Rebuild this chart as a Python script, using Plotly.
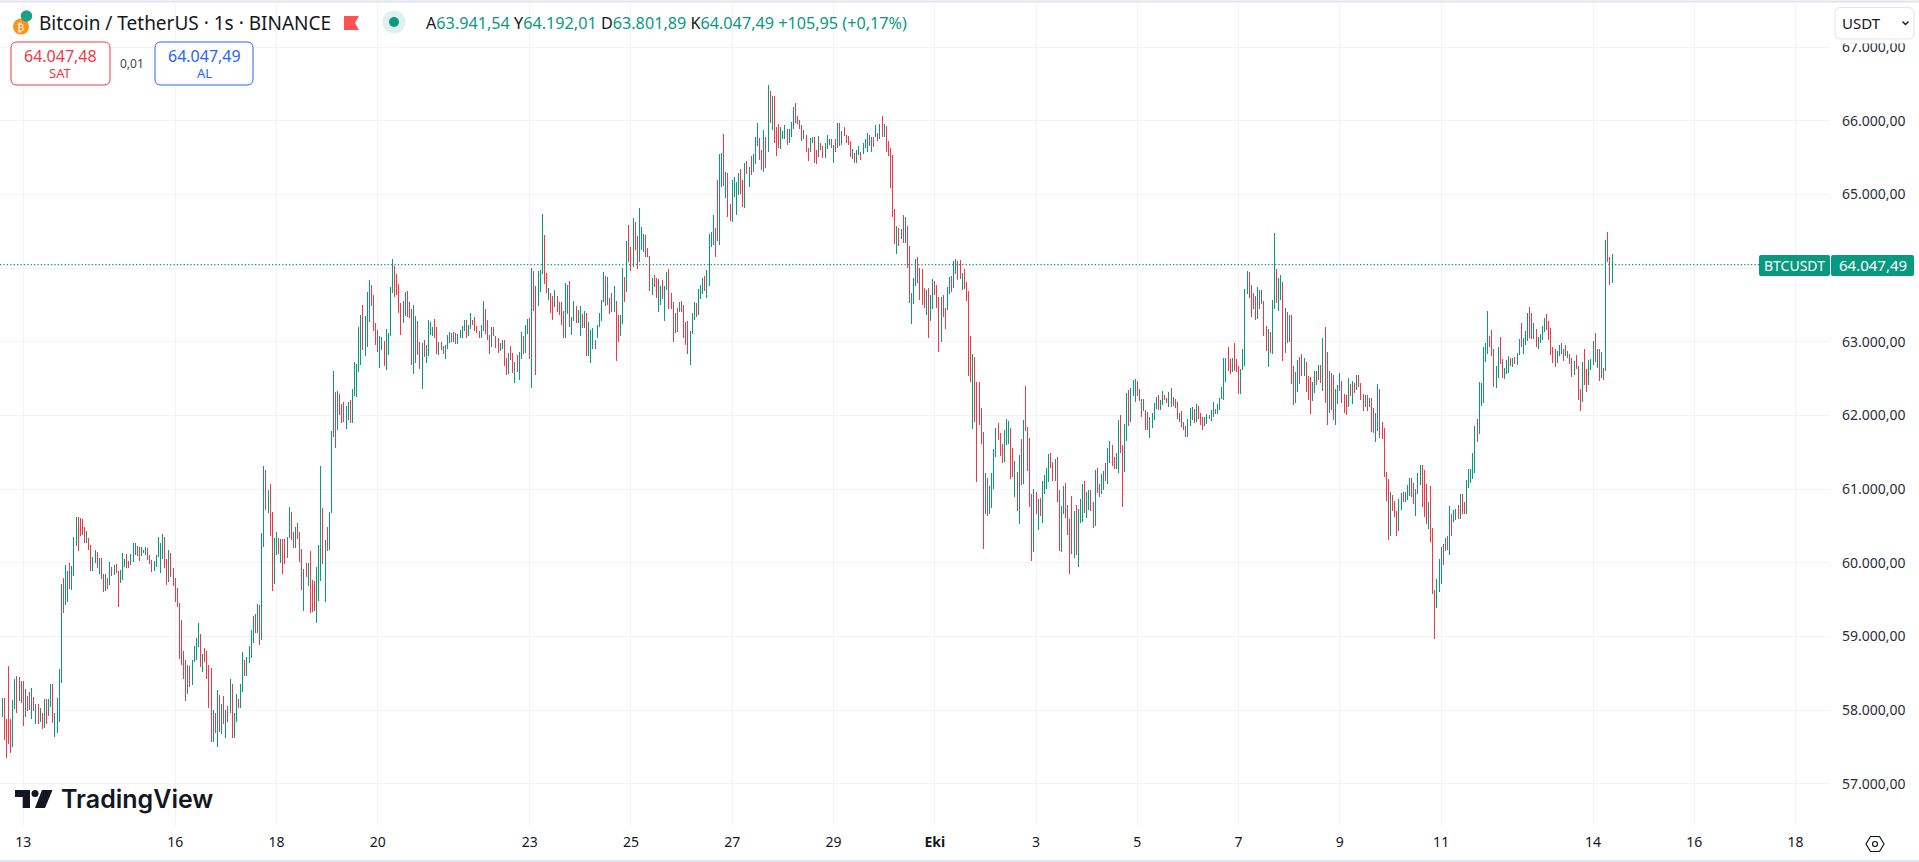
import pandas as pd
import plotly.graph_objects as go

# ---------- hourly bars (BTC/USDT, price units) ----------
high_1 = [
58162,58171,57883,58598,57883,58140,58423,58463,58450,58396,
58396,58288,58193,58247,58301,58180,58085,58085,58031,57964,
58153,58153,58153,58355,58355,57964,58166,58558,59719,59800,
59975,59894,60002,59962,60353,60623,60623,60610,60596,60488,
60434,60340,60245,60083,60178,60151,60070,60070,59854,59854,
59800,60016,59948,59975,59989,59894,59908,60137,60056,60124,
60029,60124,60272,60272,60232,60218,60218,60178,60218,60205,
60110,60043,60029,60110,60353,60272,60394,60353,60056,60178,
60137,59935,59800,59665,59462,59219,58801,58679,58612,58598,
58679,58868,58976,59179,59030,58760,58841,58801,58612,58571,
58004,57964,58274,58207,58085,58193,58004,58058,58423,58355,
57964,58220,58153,58355,58787,58679,58720,58868,59084,59273,
59300,59449,59435,60407,61312,61258,60988,61069,60691,60340,
60421,60340,60326,60326,60326,60353,60758,60691,60421,60488,
60542,60421,60191,59921,60002,60002,60164,59773,59759,59948,
60245,61312,60745,60313,60488,60691,61788,62598,62314,62327,
62287,62152,62179,62125,62179,62206,62354,62732,62705,63205,
63367,63502,63353,63677,63839,63772,63637,63259,63164,63083,
63070,63016,63178,63124,63745,64123,64028,63920,63785]
low_1 = [
57910,57600,57357,57545,57424,57505,58018,57964,58126,58099,
57788,57910,57991,58004,57883,57991,57815,57815,57842,57748,
57761,57815,57923,58045,57829,57640,57694,57842,58369,59314,
59435,59476,59651,59638,59827,60232,60164,60367,60380,60272,
60272,60178,59894,59894,60002,59935,59854,59786,59611,59624,
59651,59705,59827,59840,59867,59408,59732,59773,59948,59935,
59935,59975,60016,60110,60097,60029,60097,60137,60110,60043,
59989,59881,59894,59948,60083,59867,60056,59935,59705,59746,
59813,59692,59476,59395,58693,58612,58423,58126,58220,58315,
58342,58652,58679,58855,58585,58517,58652,58423,58031,57572,
57572,57694,57505,57707,57680,57815,57626,57842,57964,57626,
57626,57842,58031,58031,58247,58463,58463,58639,58706,58909,
59044,59044,58882,58949,60218,60718,60677,60367,59624,59719,
60110,60124,60002,59854,59989,60070,60340,60313,60205,60205,
60326,60016,59638,59354,59813,59692,59314,59327,59341,59179,
59489,59759,59989,59476,60164,60178,60680,61706,61558,61800,
62003,61895,61909,61814,61936,61895,61895,62260,62246,62584,
62692,62894,62813,62935,63272,63488,63151,62962,62867,62651,
62894,62665,62611,62827,63083,63664,63610,63637,63394]
high_2 = [
63531,63558,63680,63693,63544,63450,63504,63355,63288,62991,
62977,63031,62950,63301,63274,63207,63315,63207,62991,63004,
62937,62950,63099,63139,63126,63139,63126,63112,63166,63220,
63301,63301,63234,63396,63301,63342,63220,63153,63234,63558,
63450,63301,63099,63207,63207,63085,63045,62977,63031,63031,
62775,62842,62937,62842,62721,62815,62856,63139,63072,63234,
63315,63328,64003,63963,63760,63963,63976,64732,64449,63936,
63733,63666,63625,63706,63625,63544,63544,63423,63801,63774,
63828,63342,63558,63490,63436,63490,63382,63423,63396,63274,
63166,63193,63018,63234,63396,63571,63950,63895,63882,63598,
63666,63760,63558,63369,63369,64003,63882,64368,64584,64287,
64678,64624,64435,64813,64557,64462,64449,64273,64165,63868,
63909,63868,63855,63760,63841,63760,63950,63990,63666,63544,
63396,63463,63544,63558,63504,63274,63288,63153,63396,63544,
63531,63720,63774,63868,63895,63976,64462,64489,64719,64543,
65191,65542,65556,65826,65299,65286,64867,65191,65232,65164,
65286,65340,65191,65421,65448,65367,65515,65542,65785,65974,
65772,65596,65880,65785,66487,66406,66339,66339,65920,65961,
65920,65866,65947,65893,65893,65988,66190,66244,66069,66015,
65947,65880,65812,65623,65772,65785,65785,65596,65799,65704,
65650,65704,65812,65758,65758,65677,65758,65974,65974,65866,
65920,65812,65799,65731,65610,65556,65596,65650,65569,65704,
65745,65839,65812,65785,65785,65947,65839,65961,66069,65961,
65934,65718,65623,65529,64800,64570,64543]
low_2 = [
63099,63261,63355,63342,63328,62680,62559,62707,62815,62626,
62356,62788,62707,62802,63099,63072,63045,62829,62815,62883,
62829,62761,62896,62977,63004,63004,62964,62964,63045,63045,
63153,63058,63072,63180,63234,63153,63126,63058,63058,63153,
63112,63018,62829,62923,63072,62910,62842,62869,62896,62667,
62545,62559,62748,62572,62437,62586,62478,62761,62829,62842,
63112,62761,62370,63423,62545,63490,63680,63922,63787,63666,
63571,63396,63301,63477,63409,63369,63234,63058,63058,63382,
63207,63099,63288,63261,63261,63085,63193,63193,62802,62802,
62707,62896,62896,63045,63207,63288,63544,63490,63504,63382,
63409,63409,62734,63004,63085,63247,63544,63679,64084,63963,
64017,64246,63990,64084,64246,64219,64152,64152,63693,63639,
63747,63598,63409,63504,63585,63288,63706,63450,63450,63004,
63126,63139,63409,63409,63058,62950,62829,62680,63112,63301,
63342,63369,63585,63652,63693,63598,63760,64287,64314,64152,
64368,64314,65097,65110,64948,64692,64638,64624,64962,64719,
64989,65002,64827,64813,65272,65097,65259,65299,65407,65650,
65461,65326,65299,65353,65569,65974,65880,65691,65515,65623,
65610,65758,65758,65677,65704,65785,65893,65974,65961,65893,
65731,65745,65569,65448,65569,65691,65421,65407,65502,65596,
65488,65488,65610,65677,65623,65421,65569,65623,65650,65664,
65799,65704,65664,65502,65475,65421,65421,65529,65461,65542,
65623,65569,65650,65569,65637,65785,65731,65758,65785,65785,
65569,65515,65083,64692,64327,64192,64300]
high_3 = [
64529,64718,64695,64570,64300,63665,63868,64124,64151,64003,
63989,63733,63706,63733,63638,63854,63827,63773,63611,63611,
63638,63463,63746,63881,63895,64097,64124,64097,64111,63935,
63989,63814,63692,63085,62828,62788,62450,62450,62099,61775,
61222,61154,61046,61222,61546,61829,61897,61762,61613,61802,
61951,61924,61829,61559,61384,61235,61465,61681,61937,62396,
61843,61694,60938,61006,60965,60870,60884,61114,61195,61289,
61478,61492,61370,61411,61438,60992,60776,61046,61087,60790,
60600,60911,60709,60790,60736,60870,61073,61114,60965,60992,
60992,60830,61262,61289,61073,61208,61249,61357,61559,61654,
61600,61438,61492,61937,62005,61600,61883,62302,62342,62369,
62477,62491,62464,62356,62221,62221,62072,62050,61978,62032,
62167,62248,62275,62207,62329,62275,62234,62315,62369,62248,
62221,62180,62032,62059,61910,61856,61950,62099,62113,62086,
62153,62126,62032,61978,61978,62018,62005,62072,62180,62086,
62153,62234,62383,62774,62774,62936,62761,62774,62977,62761,
62666,62626,62909,63719,63962,63949,63773,63665,63625,63746,
63706,63706,63557,63220,63179,63139,63571,64475,63989,63868,
63908,63814,63463,63409,63368,63368,62666,62585,62747,62788,
62828,62774,62720,62531,62518,62450,62599,62599,62680,62680,
63058,63206,62855,62599,62572,62545,62356,62410]
low_3 = [
64394,64340,64340,64003,63530,63247,63517,63760,63800,63571,
63503,63463,63368,63058,63287,63449,63638,63463,62855,63004,
63341,63179,63436,63652,63679,63733,63922,63841,63854,63706,
63719,63557,62531,62450,61815,61910,61100,61870,61613,60182,
60668,60641,60668,60749,61006,61438,61667,61451,61357,61370,
61600,61613,61141,61168,60898,60709,60533,61060,61073,61789,
61249,60763,60020,60142,60668,60452,60641,60547,60938,61006,
61100,61289,61114,61114,60830,60155,60142,60668,60614,60385,
59845,60115,60060,60101,59939,60547,60560,60682,60614,60722,
60709,60479,60506,60952,60898,60938,60992,61114,61073,61357,
61316,61276,61276,61222,61492,60763,61235,61654,61856,61910,
62261,62180,62261,62194,61978,62059,61802,61800,61694,61829,
61937,62086,62072,62072,62140,62207,62167,62113,62113,62126,
62099,61950,61910,61843,61802,61708,61708,61856,61937,61897,
61910,61950,61870,61802,61856,61883,61950,61924,61978,62018,
62018,62072,62221,62207,62450,62599,62558,62585,62599,62585,
62288,62288,62612,62666,63652,63598,63341,63449,63301,63314,
63449,63517,63085,62869,62653,62842,62828,63449,63530,63422,
63571,62734,62842,62990,63004,62423,62140,62167,62315,62423,
62531,62531,62315,62207,62018,62194,62302,62410,62477,62437,
62329,62167,61870,62032,62072,61937,61870,62153]
high_4 = [
62572,62464,62288,62275,62504,62423,62464,62437,62545,62545,
62437,62288,62275,62275,62234,62234,62099,62032,62423,62356,
61910,61829,61235,61140,60965,60925,60844,60709,60871,60952,
60965,60965,61060,61154,61154,61087,61006,61222,61330,61330,
61262,61073,60830,61046,60479,59629,59777,60047,60209,60263,
60344,60371,60776,60668,60722,60736,60790,60938,60938,60830,
61127,61276,61276,61492,61856,61950,62450,62437,62936,62977,
63422,63085,63166,62909,62666,62936,63071,62761,62639,62747,
62801,62774,62774,62788,62842,63044,63260,63058,63152,63395,
63476,63395,63260,63179,63071,63112,63220,63328,63382,63287,
63193,62923,62896,62869,62963,62990,62909,62963,62869,62828,
62774,62734,62815,62666,62356,62720,62896,62626,62747,62761,
63017,63125,62896,62896,62855,62639,64381,64489,64151,64192.01]
low_4 = [
62329,62167,62032,62005,62113,62261,62153,62302,62342,62383,
62207,62059,62113,62059,62113,61775,61762,61640,61789,61694,
61680,61168,60844,60317,60371,60709,60628,60371,60439,60722,
60830,60830,60857,60911,60898,60803,60641,60938,61060,60763,
60628,60533,60466,60277,59575,58967,59386,59602,59710,59966,
60155,60169,60101,60371,60560,60587,60601,60601,60668,60668,
60668,61019,61087,61140,61222,61640,61748,62126,62167,62720,
62828,62923,62801,62383,62369,62504,62693,62504,62491,62558,
62572,62666,62653,62693,62680,62815,62923,62828,62963,63017,
63058,63044,63044,62923,62909,62990,63031,63139,63166,63031,
62815,62707,62653,62707,62801,62828,62734,62801,62774,62693,
62518,62545,62626,62207,62059,62180,62410,62315,62410,62612,
62680,62720,62639,62464,62504,62477,62599,64084,63773,63801.89]
# G = the bar rose over the hour, R = it fell
direction = (
"GRRRRGGRGR" "RGRRGRGRGR" "GRGGRGGGGR" "GGRGGGRRRR" "GRRGGRGRRG"
"RGRGRRGGGR" "RGGGRRGGGR" "RRGGGGGRRG" "RRRRRRRRGR" "GGGGRGRRRR"
"GRGRGRGRGR" "GGRGGRGGGG" "RGRGGRGRRG" "GRGRRGGRRG" "RRRGRGRRRG"
"GGRGRGGGRG" "RRRGGRGGGG" "GRGGGRRRRG" "GRGGGGRRRR" "GGRRRGGRRG"
"RGGGGRRGRR" "GGGRGRGGGG" "RGGRRRRGGR" "RRGRRRGGRR" "GRRGRGGRGG"
"RGRRGGGRRG" "RRGRRRRGGR" "GGRGGRGRGG" "GRGGGGRGRR" "GRRGGRGRRG"
"RRGGGRRRGR" "RGGRGGRRRG" "RGRRRRGGGR" "GGGRGGGGRR" "GGRGRRGGGG"
"RRGRGRGGGR" "RGRGRGRRRG" "GGRGGGRRRR" "GRRGGRRGRR" "GGGRGRGRGR"
"RRRGRGGRGG" "GRGRGRGRGR" "RRRRGRGRGR" "RGGGRRRRGR" "GGRRRGRRGG"
"RGGRRGRRRR" "GRRRRRGRGG" "GGRRRGGGRR" "GRGRGRRRRG" "RGRGGGGRRG"
"RRGGRRRRGR" "GGGRGGRRGR" "RGGRGGRRGG" "RRGGRGGGRR" "RGRRGGGGRG"
"GRRGRGRRGR" "RRGGGRGRRR" "GGRGGRGGGG" "GRRGRRRGGG" "GRRRRGRGRR"
"GRGGRGGRGR" "GRRGGRRGRR" "RGGRGRGRRG" "RRGGGRRRGR" "GRGRRRGRGR"
"RGGRRRRRGR" "RRGGRGGGRR" "GGGRRRGRRR" "GGGRGRGRGG" "RGRRGGGGGR"
"GGGGGRRRGG" "RRGGGRGRGG" "RGGGRRGRGG" "GGRRRRRGGG" "RRGRRGRRRG"
"RRGGGRGRGR" "GRRG"
)
last_bar_open, last_bar_close = 63941.54, 64047.49

price_ticks = [57000, 58000, 59000, 60000, 61000, 62000, 63000, 64000, 65000, 66000, 67000]
date_ticks = ["2024-09-13", "2024-09-16", "2024-09-18", "2024-09-20", "2024-09-23", "2024-09-25",
              "2024-09-27", "2024-09-29", "2024-10-01", "2024-10-03", "2024-10-05", "2024-10-07",
              "2024-10-09", "2024-10-11", "2024-10-14", "2024-10-16", "2024-10-18"]
date_labels = ["13", "16", "18", "20", "23", "25", "27", "29", "<b>Eki</b>", "3", "5", "7", "9", "11", "14", "16", "18"]

highs = high_1 + high_2 + high_3 + high_4
lows = low_1 + low_2 + low_3 + low_4
n = min(len(highs), len(lows), len(direction))
highs, lows, direction = highs[-n:], lows[-n:], direction[-n:]
times = pd.date_range(end="2024-10-14 09:00", periods=n, freq="h")
opens = [l if d == "G" else h for h, l, d in zip(highs, lows, direction)]
closes = [h if d == "G" else l for h, l, d in zip(highs, lows, direction)]
opens[-1], closes[-1] = last_bar_open, last_bar_close

UP, DOWN, INK, BORDER = "#089981", "#F23645", "#131722", "#E0E3EB"
FONT = "Noto Sans"
W, H, ML, MR, MT, MB = 1919, 862, 0, 89, 3, 36
PW, PH = W - ML - MR, H - MT - MB


def fx(x):
    return (x - ML) / PW


def fy(y):
    return (H - MB - y) / PH


def poly(points):
    return "M" + " L".join(f"{fx(x):.5f},{fy(y):.5f}" for x, y in points) + " Z"


def rrect(x0, y0, x1, y1, r):
    a, b, c, d = fx(x0), fx(x1), fy(y0), fy(y1)
    rx, ry = r / PW, r / PH
    return (f"M{a+rx:.5f},{c:.5f} L{b-rx:.5f},{c:.5f} Q{b:.5f},{c:.5f} {b:.5f},{c-ry:.5f} "
            f"L{b:.5f},{d+ry:.5f} Q{b:.5f},{d:.5f} {b-rx:.5f},{d:.5f} L{a+rx:.5f},{d:.5f} "
            f"Q{a:.5f},{d:.5f} {a:.5f},{d+ry:.5f} L{a:.5f},{c-ry:.5f} Q{a:.5f},{c:.5f} {a+rx:.5f},{c:.5f} Z")


def path(d, fill="rgba(0,0,0,0)", line=None, width=1):
    return dict(type="path", xref="paper", yref="paper", path=d, fillcolor=fill, layer="above",
                line=dict(color=line or "rgba(0,0,0,0)", width=width if line else 0))


def circle(cx, cy, r, fill="rgba(0,0,0,0)", line=None, width=1):
    return dict(type="circle", xref="paper", yref="paper", x0=fx(cx - r), x1=fx(cx + r), y0=fy(cy + r), y1=fy(cy - r),
                fillcolor=fill, layer="above", line=dict(color=line or "rgba(0,0,0,0)", width=width if line else 0))


def text(x, y, s, size, color=INK, anchor="left", family=FONT, **font):
    return dict(xref="paper", yref="paper", x=fx(x), y=fy(y), text=s, showarrow=False, xanchor=anchor, yanchor="middle",
                borderpad=0, font=dict(family=family, size=size, color=color, **font))


fig = go.Figure(go.Candlestick(
    x=times, open=opens, high=highs, low=lows, close=closes,
    increasing=dict(line=dict(color=UP, width=1), fillcolor=UP),
    decreasing=dict(line=dict(color=DOWN, width=1), fillcolor=DOWN),
    whiskerwidth=0, showlegend=False, name="BTCUSDT"))


def g(v):
    return f'<span style="color:{UP}">{v}</span>'


shapes = [
    # last price line
    dict(type="line", xref="paper", yref="y", x0=0, x1=fx(1759), y0=last_bar_close, y1=last_bar_close,
         line=dict(color=UP, width=1.3, dash="1.3px 2.1px"), layer="above"),
    # window borders
    dict(type="line", xref="paper", yref="paper", x0=0, x1=fx(W), y0=fy(1.5), y1=fy(1.5), line=dict(color=BORDER, width=2), layer="above"),
    dict(type="line", xref="paper", yref="paper", x0=0, x1=fx(W), y0=fy(861), y1=fy(861), line=dict(color=BORDER, width=2), layer="above"),
    # header logo
    circle(21, 26.5, 8, fill="#F7931A"),
    circle(26.5, 16, 5.8, fill="#1E9E8C"),
    # flag
    path(poly([(344, 16), (359, 16), (355, 23), (359, 30), (344, 30)]), fill="#FF5252"),
    # market status dot
    circle(394, 22, 11.5, fill="#DFF1EE"),
    circle(394, 22, 5, fill=UP),
    # sell / buy boxes
    path(rrect(11, 42, 110, 85, 6), fill="white", line="#F23645"),
    path(rrect(155, 42, 253, 85, 6), fill="white", line="#2962FF"),
    # currency button, hiding the top of the first price label
    path(poly([(1835, 39), (1914, 39), (1914, 43.5), (1835, 43.5)]), fill="white"),
    path(rrect(1835, 7.5, 1914, 39, 6), fill="white", line=BORDER),
    dict(type="path", xref="paper", yref="paper", layer="above", line=dict(color=INK, width=1.3),
         path=f"M{fx(1902.5):.5f},{fy(21.5):.5f} L{fx(1905.5):.5f},{fy(24.5):.5f} L{fx(1908.5):.5f},{fy(21.5):.5f}"),
    # price labels
    path(rrect(1759, 255, 1830, 276, 2), fill=UP),
    path(rrect(1831, 255, 1914, 276, 2), fill=UP),
    # TradingView mark
    path(poly([(15, 790), (30, 790), (30, 808), (22.7, 808), (22.7, 797), (15, 797)]), fill=INK),
    circle(35, 793.5, 3.5, fill=INK),
    path(poly([(42, 790), (52.5, 790), (45, 808), (35, 808)]), fill=INK),
    # settings icon
    path(poly([(1866, 844), (1870.5, 836.5), (1879.5, 836.5), (1884, 844), (1879.5, 851.5), (1870.5, 851.5)]), line=INK, width=1.2),
    circle(1875, 844, 2.5, line=INK, width=1.2),
]

annotations = [
    text(21, 27, "₿", 11, color="white", anchor="center", family="DejaVu Sans"),
    text(37.5, 22.5, "Bitcoin / TetherUS · 1s · BINANCE", 19),
    text(425, 22.5, f"A{g('63.941,54')} Y{g('64.192,01')} D{g('63.801,89')} K{g('64.047,49')} {g('+105,95 (+0,17%)')}", 16.2),
    text(60, 56, "64.047,48", 16, color="#F23645", anchor="center"),
    text(60, 73, "SAT", 13, color="#F23645", anchor="center"),
    text(132, 63, "0,01", 12, color="#434651", anchor="center"),
    text(204, 56, "64.047,49", 16, color="#2962FF", anchor="center"),
    text(204, 73, "AL", 13, color="#2962FF", anchor="center"),
    text(1841, 23, "USDT", 15),
    text(1794.5, 265, "BTCUSDT", 14, color="white", anchor="center"),
    text(1872.5, 265, "64.047,49", 15, color="white", anchor="center"),
    text(60, 799, "TradingView", 25, family="Inter", weight=600),
]

fig.update_layout(
    width=W, height=H, autosize=False,
    margin=dict(l=ML, r=MR, t=MT, b=MB, pad=0),
    paper_bgcolor="white", plot_bgcolor="white",
    boxgap=1, showlegend=False,
    font=dict(family=FONT, color=INK, size=14),
    shapes=shapes, annotations=annotations,
    xaxis=dict(
        type="date", rangeslider=dict(visible=False),
        range=["2024-09-12 12:58", "2024-10-18 16:18"],
        tickmode="array", tickvals=date_ticks, ticktext=date_labels,
        showgrid=True, gridcolor="#F2F3F6", gridwidth=1, zeroline=False, showline=False,
        ticks="", tickfont=dict(size=14, color=INK), ticklabelstandoff=6, tickangle=0),
    yaxis=dict(
        side="right", range=[56430, 67597], tickmode="array", tickvals=price_ticks,
        ticktext=[f"{v:,.2f}".replace(",", "X").replace(".", ",").replace("X", ".") for v in price_ticks],
        showgrid=True, gridcolor="#F2F3F6", gridwidth=1, zeroline=False, showline=False,
        ticks="", tickfont=dict(size=14, color="#2A2E39"), ticklabelstandoff=11),
)

fig.write_html("out.html", config=dict(displayModeBar=False),
               post_script=("document.body.style.margin='0';document.body.style.overflow='hidden';"
                            "var s=document.createElement('style');"
                            "s.textContent='.boxlayer path{shape-rendering:crispEdges}';"
                            "document.head.appendChild(s);"))
